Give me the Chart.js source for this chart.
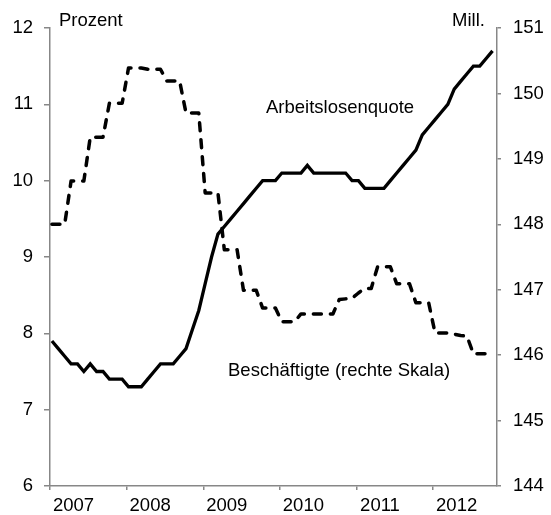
<!DOCTYPE html>
<html lang="de">
<head>
<meta charset="utf-8">
<title>Arbeitslosenquote und Beschäftigte</title>
<script src="https://cdn.jsdelivr.net/npm/chart.js@4.4.1/dist/chart.umd.min.js"></script>
<style>
  html, body { margin: 0; padding: 0; background: #fff; }
  #wrap { width: 551px; height: 515px; }
</style>
</head>
<body>
<div id="wrap"><canvas id="chart" width="551" height="515"></canvas></div>
<script>
// Jahre an der x-Achse, Monatswerte ab Januar 2007
const jahre = ['2007', '2008', '2009', '2010', '2011', '2012'];

// Arbeitslosenquote in Prozent (linke Skala)
const arbeitslosenquote = [
    7.9, 7.8, 7.7, 7.6, 7.6, 7.5, 7.6, 7.5, 7.5, 7.4, 7.4, 7.4,
    7.3, 7.3, 7.3, 7.4, 7.5, 7.6, 7.6, 7.6, 7.7, 7.8, 8.05, 8.3,
    8.65, 9.0, 9.3, 9.4, 9.5, 9.6, 9.7, 9.8, 9.9, 10.0, 10.0, 10.0,
    10.1, 10.1, 10.1, 10.1, 10.2, 10.1, 10.1, 10.1, 10.1, 10.1, 10.1, 10.0,
    10.0, 9.9, 9.9, 9.9, 9.9, 10.0, 10.1, 10.2, 10.3, 10.4, 10.6, 10.7,
    10.8, 10.9, 11.0, 11.2, 11.3, 11.4, 11.5, 11.5, 11.6, 11.7
];

// Beschäftigte in Mill. (rechte Skala), Quartalswerte je drei Monate
const beschaeftigte = [
    148.0, 148.0, 148.0, 148.66, 148.66, 148.66, 149.33, 149.33, 149.33, 149.85, 149.85, 149.85,
    150.39, 150.39, 150.39, 150.37, 150.37, 150.37, 150.19, 150.19, 150.19, 149.7, 149.7, 149.7,
    148.48, 148.48, 148.48, 147.61, 147.61, 147.61, 146.99, 146.99, 146.99, 146.72, 146.72, 146.72,
    146.51, 146.51, 146.51, 146.63, 146.63, 146.63, 146.63, 146.63, 146.63, 146.85, 146.86, 146.87,
    146.95, 147.02, 147.02, 147.35, 147.35, 147.35, 147.09, 147.09, 147.09, 146.8, 146.8, 146.8,
    146.34, 146.34, 146.34, 146.32, 146.3, 146.29, 146.02, 146.02, 146.02
];

const linkeSkala = { min: 6, max: 12 };
const rechteSkala = { min: 144, max: 151 };

const schrift = '"Liberation Sans", Arial, sans-serif';
const achsenFarbe = '#878787';

// Monatswerte auf die x-Achse legen (Monatsmitte etwa)
function punkte(werte) {
    return werte.map((wert, i) => ({ x: i + 0.3, y: wert }));
}

// Texte im Diagramm
const beschriftung = {
    id: 'beschriftung',
    afterDraw(chart) {
        const ctx = chart.ctx;
        ctx.save();
        ctx.font = '18.5px ' + schrift;
        ctx.fillStyle = '#000';
        ctx.textBaseline = 'alphabetic';
        ctx.fillText('Prozent', 59, 26);
        ctx.fillText('Mill.', 452, 26);
        ctx.fillText('Arbeitslosenquote', 266, 113);
        ctx.fillText('Beschäftigte (rechte Skala)', 228, 376);
        ctx.restore();
    }
};

const ctx = document.getElementById('chart');

new Chart(ctx, {
    type: 'line',
    data: {
        datasets: [
            {
                label: 'Arbeitslosenquote',
                data: punkte(arbeitslosenquote),
                yAxisID: 'y',
                borderColor: '#000',
                borderWidth: 3.3,
                pointRadius: 0,
                tension: 0
            },
            {
                label: 'Beschäftigte (rechte Skala)',
                data: punkte(beschaeftigte),
                yAxisID: 'y2',
                borderColor: '#000',
                borderWidth: 3.5,
                borderDash: [8, 9],
                borderCapStyle: 'round',
                borderJoinStyle: 'round',
                pointRadius: 0,
                tension: 0
            }
        ]
    },
    options: {
        responsive: false,
        devicePixelRatio: 1,
        animation: false,
        layout: { padding: { top: 28, left: 0, right: 0, bottom: 0 } },
        plugins: {
            legend: { display: false },
            tooltip: { enabled: false }
        },
        scales: {
            x: {
                type: 'linear',
                min: 0,
                max: 70,
                afterBuildTicks(scale) {
                    scale.ticks = jahre.map((j, k) => ({ value: k * 12 }));
                },
                afterFit(scale) {
                    scale.height = 29;
                },
                ticks: {
                    callback: (wert) => jahre[Math.round(wert / 12)],
                    labelOffset: 23.5,
                    padding: 5,
                    maxRotation: 0,
                    color: '#000',
                    font: { family: schrift, size: 18.5 }
                },
                grid: { drawOnChartArea: false, tickLength: 4, color: achsenFarbe, lineWidth: 1.5 },
                border: { color: achsenFarbe, width: 1.5 }
            },
            y: {
                position: 'left',
                min: linkeSkala.min,
                max: linkeSkala.max,
                afterFit(scale) {
                    scale.width = 50;
                },
                ticks: {
                    stepSize: 1,
                    padding: 11,
                    color: '#000',
                    font: { family: schrift, size: 18.5 }
                },
                grid: { drawOnChartArea: false, tickLength: 6, color: achsenFarbe, lineWidth: 1.5 },
                border: { color: achsenFarbe, width: 1.5 }
            },
            y2: {
                position: 'right',
                min: rechteSkala.min,
                max: rechteSkala.max,
                afterFit(scale) {
                    scale.width = 54;
                },
                ticks: {
                    stepSize: 1,
                    padding: 12,
                    color: '#000',
                    font: { family: schrift, size: 18.5 }
                },
                grid: { drawOnChartArea: false, tickLength: 4, color: achsenFarbe, lineWidth: 1.5 },
                border: { color: achsenFarbe, width: 1.5 }
            }
        }
    },
    plugins: [beschriftung]
});
</script>
</body>
</html>
